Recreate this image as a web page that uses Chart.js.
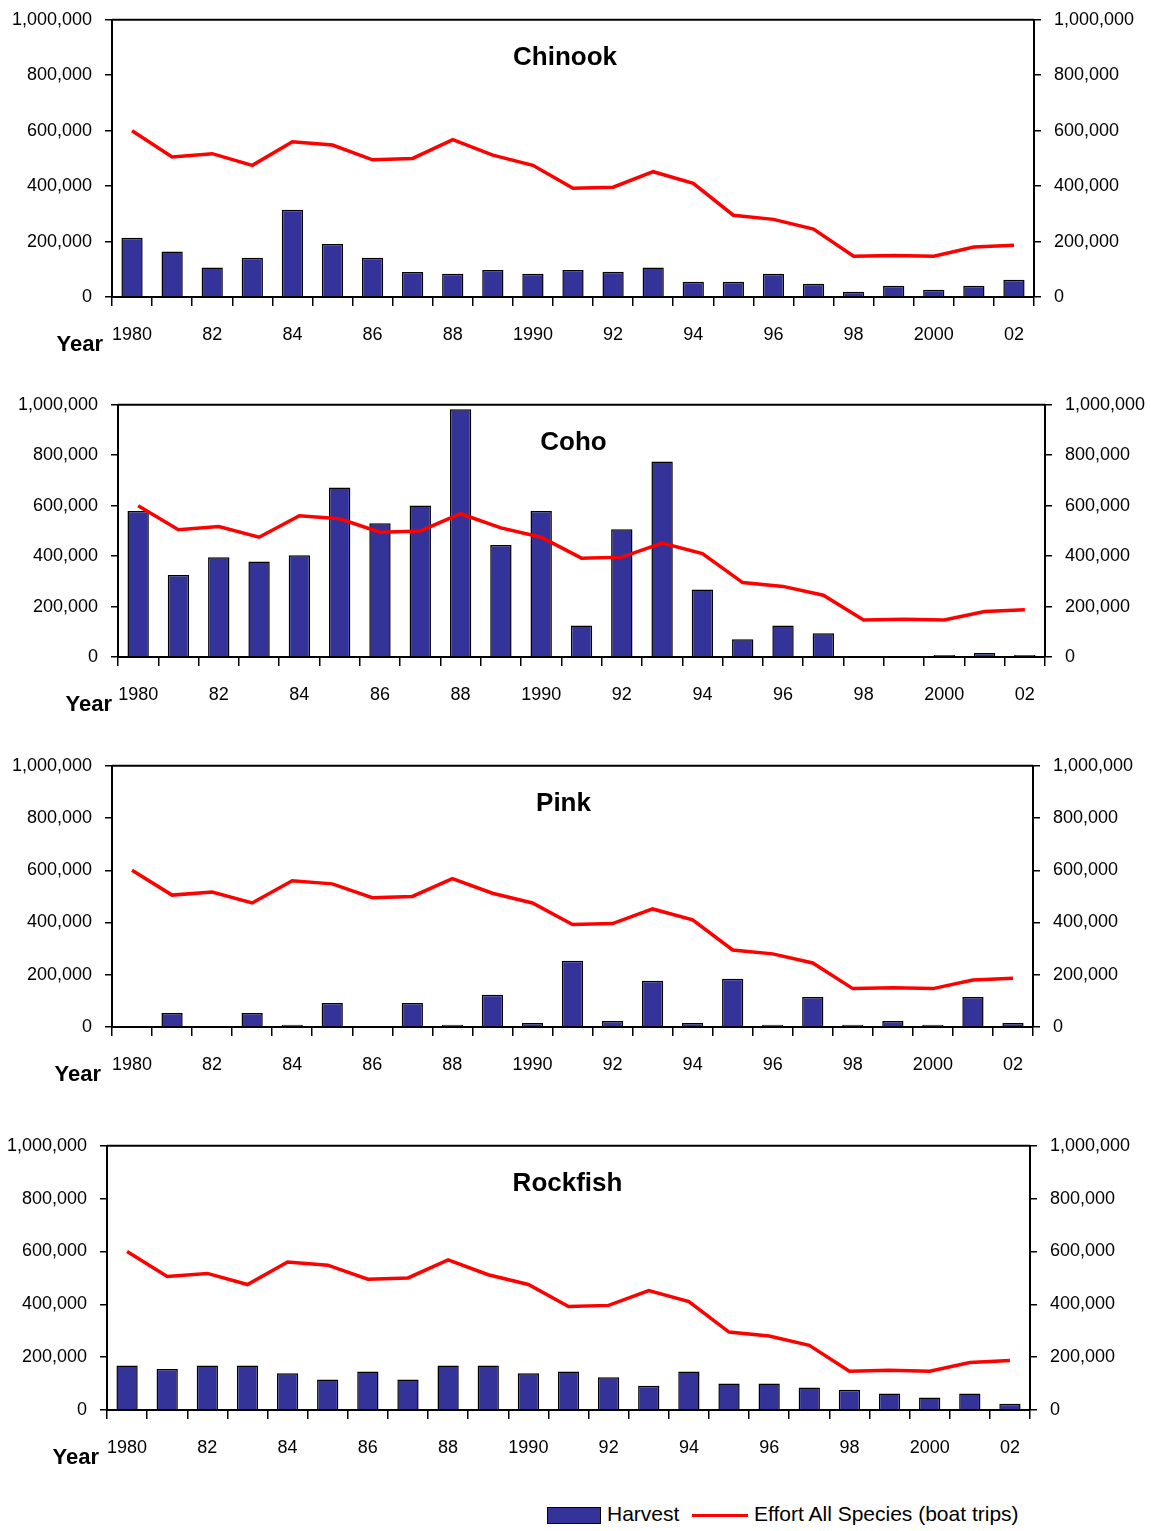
<!DOCTYPE html>
<html>
<head>
<meta charset="utf-8">
<script src="https://cdn.jsdelivr.net/npm/chart.js@4"></script>
<style>
  body { margin: 0; background: #fff; width: 1151px; height: 1531px; position: relative; overflow: hidden;
         font-family: 'Liberation Sans', Arial, sans-serif; }
  .panel { position: absolute; left: 0; width: 1151px; }
  .legend { position: absolute; top: 1500px; left: 0; width: 1151px; height: 30px; font-size: 21px; color: #000; }
  .legend span { position: absolute; }
</style>
</head>
<body>
<div class="panel" style="top:-4px;height:374px"><canvas id="chinookChart"></canvas></div>
<div class="panel" style="top:381px;height:359px"><canvas id="cohoChart"></canvas></div>
<div class="panel" style="top:742px;height:368px"><canvas id="pinkChart"></canvas></div>
<div class="panel" style="top:1122px;height:368px"><canvas id="rockfishChart"></canvas></div>
<div class="legend">
  <span style="left:547px;top:7px;width:52px;height:15px;background:#333399;border:1.5px solid #000"></span>
  <span style="left:607px;top:2px">Harvest</span>
  <span style="left:692px;top:14px;width:56px;height:3px;background:#ff0000"></span>
  <span style="left:754px;top:2px">Effort All Species (boat trips)</span>
</div>
<script>
const years = ['1980','1981','1982','1983','1984','1985','1986','1987','1988','1989','1990','1991',
  '1992','1993','1994','1995','1996','1997','1998','1999','2000','2001','2002'];
const tickLabels = ['1980','82','84','86','88','1990','92','94','96','98','2000','02'];

const effort = [600000, 505000, 517000, 475000, 560000, 548000, 495000, 500000, 568000, 512000, 475000, 392000,
  396000, 452000, 410000, 295000, 280000, 245000, 147000, 150000, 147000, 180000, 187000];

const chinookHarvest = [214000, 164000, 106000, 142000, 315000, 191000, 142000, 90000, 84000, 97000, 84000, 97000,
  91000, 106000, 55000, 55000, 84000, 48000, 19000, 41000, 26000, 41000, 62000];
const cohoHarvest = [579000, 325000, 396000, 379000, 403000, 672000, 530000, 601000, 982000, 444000, 579000, 125000,
  507000, 775000, 268000, 70000, 125000, 94000, 0, 0, 8000, 16000, 8000];
const pinkHarvest = [0, 54000, 0, 54000, 9000, 92000, 0, 92000, 9000, 123000, 15000, 254000,
  23000, 177000, 15000, 185000, 9000, 115000, 9000, 23000, 9000, 115000, 15000];
const rockfishHarvest = [168000, 155000, 168000, 168000, 139000, 115000, 146000, 115000, 168000, 168000, 139000, 146000,
  124000, 92000, 146000, 100000, 100000, 85000, 77000, 62000, 47000, 62000, 24000];

const FONT = "'Liberation Sans', Arial, sans-serif";
Chart.defaults.font.family = FONT;
Chart.defaults.font.size = 18;
Chart.defaults.color = '#000';

// title, top border and "Year" label
const decorPlugin = {
  id: 'decor',
  afterDraw(chart, args, opts) {
    const ctx = chart.ctx;
    const a = chart.chartArea;
    ctx.save();
    ctx.strokeStyle = '#000';
    ctx.lineWidth = 2;
    ctx.beginPath();
    ctx.moveTo(a.left, a.top);
    ctx.lineTo(a.right, a.top);
    ctx.stroke();
    ctx.fillStyle = '#000';
    ctx.font = 'bold 26px ' + FONT;
    ctx.textAlign = 'center';
    ctx.textBaseline = 'middle';
    ctx.fillText(opts.title, (a.left + a.right) / 2 + opts.titleDx, a.top + 38);
    ctx.font = 'bold 22px ' + FONT;
    ctx.textAlign = 'right';
    ctx.fillText('Year', opts.yearX, a.bottom + 48);
    ctx.restore();
  }
};

function makePanel(id, title, harvest, p) {
  const yAxis = (pos, w) => ({
    position: pos,
    min: 0, max: 1000000,
    afterFit(s) { s.width = w; },
    border: { display: true, color: '#000', width: 2 },
    grid: { drawOnChartArea: false, color: '#000', tickLength: 7, lineWidth: 1.5 },
    ticks: { stepSize: 200000, padding: 13, font: { size: 18 },
      callback: v => v.toLocaleString('en-US') }
  });
  new Chart(document.getElementById(id).getContext('2d'), {
    data: {
      labels: years,
      datasets: [
        { type: 'line', label: 'Effort All Species (boat trips)', data: effort, yAxisID: 'y1',
          borderColor: '#ff0000', borderWidth: 3.5, pointRadius: 0, tension: 0, order: 0 },
        { type: 'bar', label: 'Harvest', data: harvest, yAxisID: 'y',
          backgroundColor: '#333399', borderColor: '#000', borderWidth: 1.5,
          barPercentage: 0.53, categoryPercentage: 1, order: 1 }
      ]
    },
    options: {
      responsive: true,
      maintainAspectRatio: false,
      animation: false,
      layout: { padding: { top: 10, left: 0, right: 0, bottom: 0 } },
      plugins: {
        legend: { display: false },
        tooltip: { enabled: false },
        decor: { title: title, titleDx: p.titleDx, yearX: p.yearX }
      },
      scales: {
        x: {
          offset: true,
          afterFit(s) { s.height = p.xh; },
          border: { display: true, color: '#000', width: 2 },
          grid: { offset: true, drawOnChartArea: false, color: '#000', tickLength: 9, lineWidth: 1.5 },
          ticks: { autoSkip: false, maxRotation: 0, padding: 18, font: { size: 18 },
            callback: (v, i) => (i % 2 === 0 ? tickLabels[i / 2] : '') }
        },
        y: yAxis('left', p.left),
        y1: yAxis('right', 1151 - p.right)
      }
    },
    plugins: [decorPlugin]
  });
}

makePanel('chinookChart', 'Chinook', chinookHarvest, { left: 112, right: 1034, xh: 73, titleDx: -8, yearX: 103 });
makePanel('cohoChart', 'Coho', cohoHarvest, { left: 118, right: 1045, xh: 83, titleDx: -8, yearX: 112 });
makePanel('pinkChart', 'Pink', pinkHarvest, { left: 112, right: 1033, xh: 83, titleDx: -9, yearX: 101 });
makePanel('rockfishChart', 'Rockfish', rockfishHarvest, { left: 107, right: 1030, xh: 80, titleDx: -1, yearX: 99 });
</script>
</body>
</html>
